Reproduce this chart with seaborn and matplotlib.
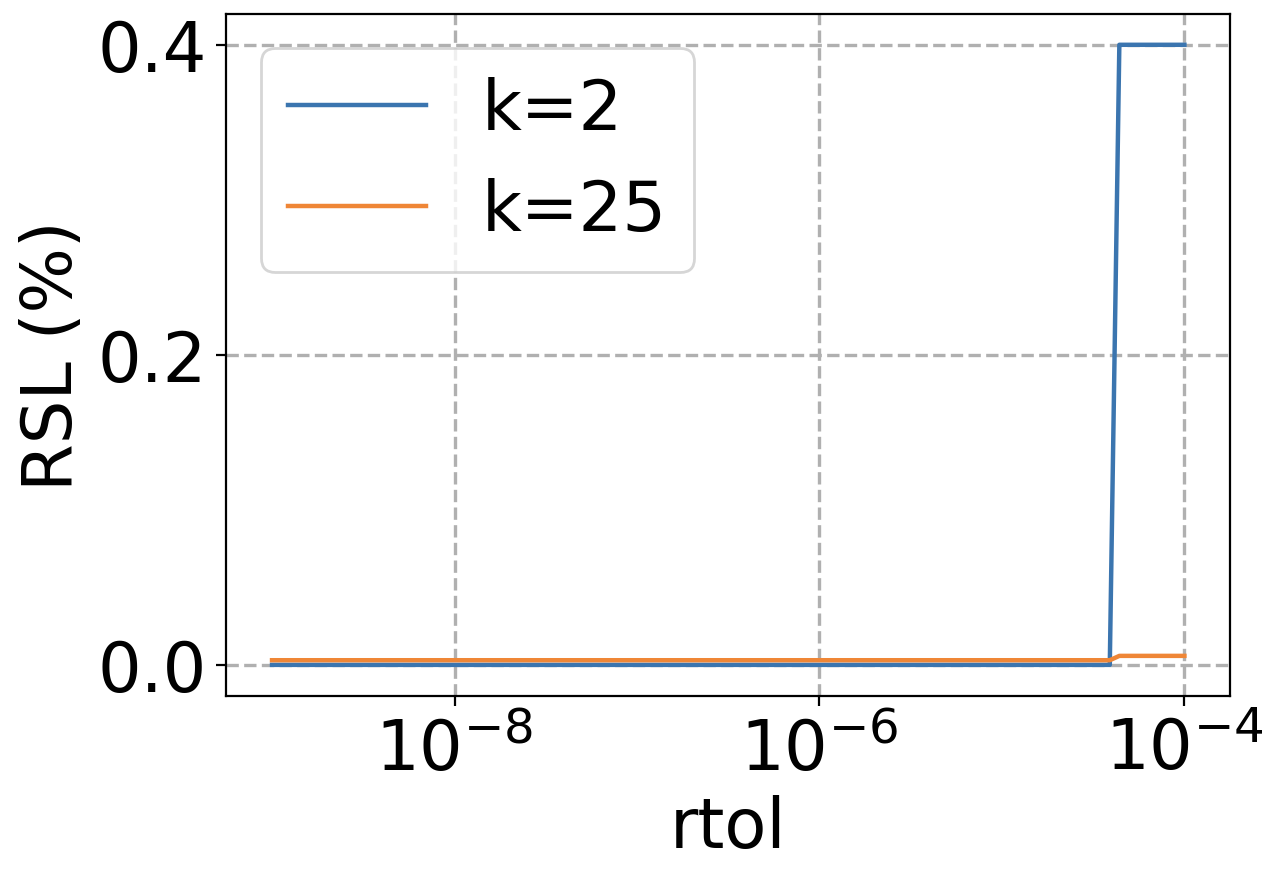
import matplotlib
matplotlib.use("Agg")
import matplotlib.pyplot as plt
import matplotlib.ticker as mticker
import pandas as pd
import seaborn as sns

# Valores (degrau perto de rtol ~ 4e-5)
rtol_k2 = [1e-9, 3.9e-5, 4.4e-5, 1e-4]
rsl_k2 = [0.0, 0.0, 0.4, 0.4]
rtol_k25 = [1e-9, 3.9e-5, 4.4e-5, 1e-4]
rsl_k25 = [0.003, 0.003, 0.0058, 0.0058]
rotulos = ["k=2", "k=25"]
cores = ["#3b75af", "#ef8636"]

df = pd.concat([
    pd.DataFrame({"rtol": rtol_k2, "rsl": rsl_k2, "k": rotulos[0]}),
    pd.DataFrame({"rtol": rtol_k25, "rsl": rsl_k25, "k": rotulos[1]}),
])

plt.rcParams["font.family"] = ["DejaVu Sans"]
TAM = 24.8

fig, ax = plt.subplots(figsize=(6.36, 4.35), dpi=200)
fig.subplots_adjust(left=0.178, right=0.967, top=0.983, bottom=0.199)

sns.lineplot(data=df, x="rtol", y="rsl", hue="k", palette=cores,
             linewidth=1.6, sort=False, estimator=None, ax=ax)

ax.set_xscale("log")
ax.set_xticks([1e-8, 1e-6, 1e-4])
ax.xaxis.set_minor_locator(mticker.NullLocator())
ax.set_yticks([0.0, 0.2, 0.4])
ax.yaxis.set_major_formatter(mticker.FormatStrFormatter("%.1f"))

ax.grid(True, linestyle="--", color="#b0b0b0", linewidth=1.2)
ax.tick_params(labelsize=TAM)
ax.set_xlabel("rtol", fontsize=TAM)
ax.set_ylabel("RSL (%)", fontsize=TAM)
ax.legend(loc="upper left", fontsize=TAM)

fig.savefig("out.png", dpi=200)
plt.close(fig)
